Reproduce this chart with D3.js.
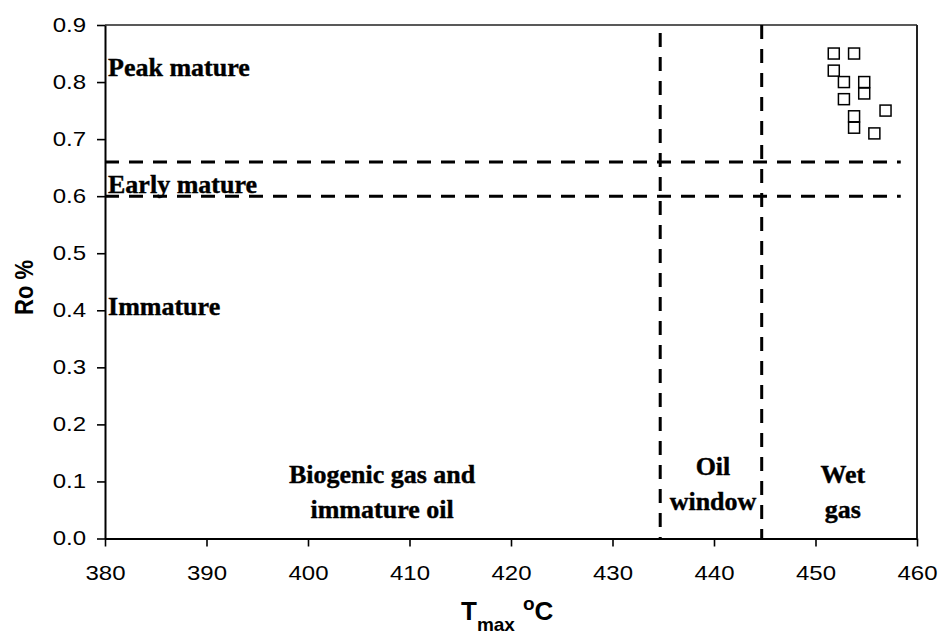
<!DOCTYPE html>
<html>
<head>
<meta charset="utf-8">
<script src="https://cdn.jsdelivr.net/npm/d3@7/dist/d3.min.js"></script>
<style>
  html, body { margin: 0; padding: 0; background: #fff; }
  svg { display: block; }
</style>
</head>
<body>
<svg id="chart" width="938" height="638"></svg>
<script>
// Samples: Tmax (°C) against vitrinite reflectance Ro (%)
const tmax = [451.8, 453.8, 451.8, 452.8, 454.8, 454.8, 452.8, 456.9, 453.8, 453.8, 455.8];
const ro   = [0.85, 0.85, 0.82, 0.80, 0.80, 0.78, 0.77, 0.75, 0.74, 0.72, 0.71];

// Maturity boundaries
const roBounds   = [0.60, 0.66];      // early mature / peak mature limits
const tmaxBounds = [434.7, 444.7];    // oil window limits

// Axis ticks
const xTicks = [380, 390, 400, 410, 420, 430, 440, 450, 460];
const yTicks = [0.0, 0.1, 0.2, 0.3, 0.4, 0.5, 0.6, 0.7, 0.8, 0.9];

// Zone labels (anchor in data units)
const zoneLabels = [
  { lines: ["Peak mature"], x: 380.3, y: 0.8106, anchor: "start" },
  { lines: ["Early mature"], x: 380.3, y: 0.6055, anchor: "start" },
  { lines: ["Immature"], x: 380.3, y: 0.3917, anchor: "start" },
  { lines: ["Biogenic gas and", "immature oil"], x: 407.3, y: 0.0967, anchor: "middle" },
  { lines: ["Oil", "window"], x: 439.9, y: 0.1113, anchor: "middle" },
  { lines: ["Wet", "gas"], x: 452.7, y: 0.0967, anchor: "middle" }
];

const svg = d3.select("#chart");
const plotLeft = 105, plotRight = 917, plotTop = 25, plotBottom = 538.5;

const x = d3.scaleLinear().domain([380, 460]).range([plotLeft, plotRight]);
const y = d3.scaleLinear().domain([0, 0.9]).range([plotBottom, plotTop]);

const sansFont = "'Liberation Sans', Arial, Helvetica, sans-serif";
const serifFont = "'Liberation Serif', 'Times New Roman', Times, serif";
const stretch = 1.2;

// Frame: top and right edges
svg.append("line")
  .attr("x1", plotLeft).attr("x2", plotRight).attr("y1", plotTop).attr("y2", plotTop)
  .attr("stroke", "#222").attr("stroke-width", 1.7);
svg.append("line")
  .attr("x1", plotRight).attr("x2", plotRight).attr("y1", plotTop).attr("y2", plotBottom)
  .attr("stroke", "#222").attr("stroke-width", 2);

// Axes
const xAxis = svg.append("g")
  .attr("transform", `translate(0,${plotBottom})`)
  .call(d3.axisBottom(x).tickValues(xTicks).tickFormat(d3.format("d"))
        .tickSize(8).tickSizeOuter(0).tickPadding(19));
const yAxis = svg.append("g")
  .attr("transform", `translate(${plotLeft},0)`)
  .call(d3.axisLeft(y).tickValues(yTicks).tickFormat(d3.format(".1f"))
        .tickSize(8).tickSizeOuter(0).tickPadding(11));

[xAxis, yAxis].forEach(g => {
  g.select(".domain").attr("stroke", "#000").attr("stroke-width", 2);
  g.selectAll(".tick line").attr("stroke", "#000").attr("stroke-width", 1.6);
  g.selectAll(".tick text")
    .attr("fill", "#000")
    .style("font-family", sansFont)
    .style("font-size", "20px");
});
// widen tick labels
yAxis.selectAll(".tick text")
  .attr("x", -19 / stretch)
  .attr("transform", `scale(${stretch},1)`);
xAxis.selectAll(".tick text")
  .attr("transform", `scale(${stretch},1)`);

// Boundary lines
const dash = "14,10";
roBounds.forEach(v => {
  svg.append("line")
    .attr("x1", x(380)).attr("x2", x(458.4))
    .attr("y1", y(v)).attr("y2", y(v))
    .attr("stroke", "#000").attr("stroke-width", 3)
    .attr("stroke-dasharray", dash);
});
tmaxBounds.forEach((v, i) => {
  svg.append("line")
    .attr("x1", x(v)).attr("x2", x(v))
    .attr("y1", y(0.9)).attr("y2", y(0))
    .attr("stroke", "#000").attr("stroke-width", 3)
    .attr("stroke-dasharray", dash)
    .attr("stroke-dashoffset", i === 0 ? 16 : 0);
});

// Sample markers (open squares)
const sq = 11;
svg.append("g").selectAll("rect")
  .data(tmax.map((t, i) => ({ t, r: ro[i] })))
  .join("rect")
  .attr("x", d => x(d.t) - sq / 2)
  .attr("y", d => y(d.r) - sq / 2)
  .attr("width", sq).attr("height", sq)
  .attr("fill", "none")
  .attr("stroke", "#000")
  .attr("stroke-width", 1.5);

// Zone labels
zoneLabels.forEach(lab => {
  const t = svg.append("text")
    .attr("text-anchor", lab.anchor)
    .style("font-family", serifFont)
    .style("font-weight", "bold")
    .style("font-size", "26px")
    .attr("fill", "#000")
    .attr("stroke", "#000")
    .attr("stroke-width", 0.4);
  lab.lines.forEach((ln, i) => {
    t.append("tspan")
      .attr("x", x(lab.x))
      .attr("y", y(lab.y) + i * 35)
      .text(ln);
  });
});

// Y axis title
svg.append("text")
  .attr("transform", `translate(33,315) scale(${stretch},1) rotate(-90)`)
  .attr("text-anchor", "start")
  .style("font-family", sansFont)
  .style("font-weight", "bold")
  .style("font-size", "22px")
  .attr("fill", "#000")
  .text("Ro %");

// X axis title: T_max °C
const xt = svg.append("text")
  .attr("x", 461).attr("y", 620)
  .style("font-family", sansFont)
  .style("font-weight", "bold")
  .attr("fill", "#000");
xt.append("tspan").style("font-size", "26px").text("T");
xt.append("tspan").style("font-size", "19px").attr("dy", 11).text("max");
xt.append("tspan").style("font-size", "19px").attr("dy", -21).attr("dx", 8).text("o");
xt.append("tspan").style("font-size", "26px").attr("dy", 10).text("C");
</script>
</body>
</html>
